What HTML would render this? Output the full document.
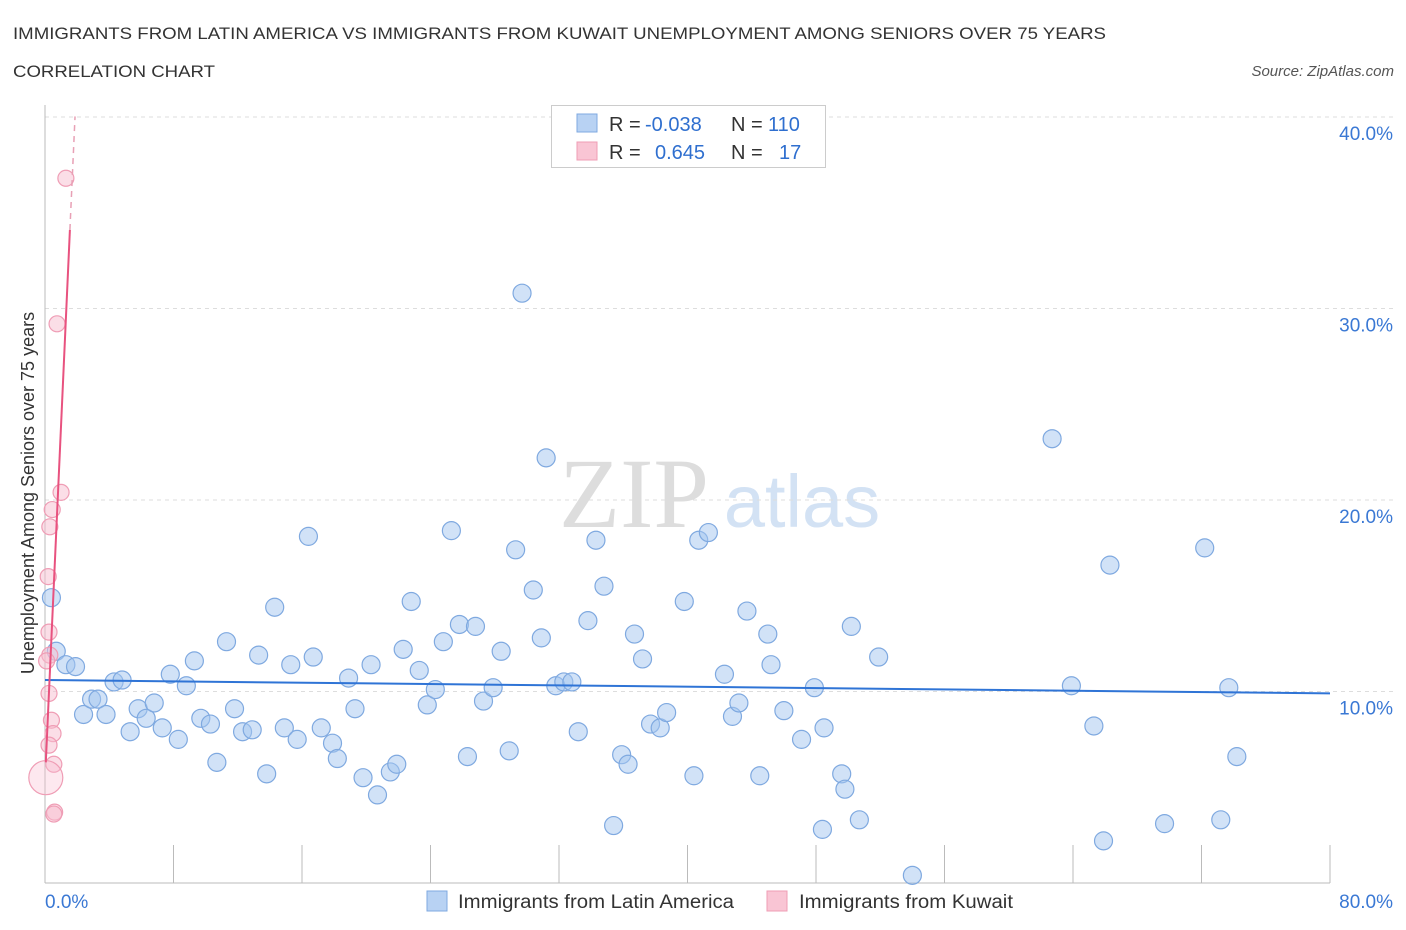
<!DOCTYPE html>
<html><head><meta charset="utf-8">
<style>
body{margin:0;background:#fff;font-family:"Liberation Sans",sans-serif;}
#wrap{position:relative;width:1406px;height:930px;overflow:hidden;}
</style></head>
<body>
<div id="wrap">
<svg id="chart" width="1406" height="930">
<text x="13" y="39" font-size="17" fill="#333" textLength="1093" lengthAdjust="spacingAndGlyphs">IMMIGRANTS FROM LATIN AMERICA VS IMMIGRANTS FROM KUWAIT UNEMPLOYMENT AMONG SENIORS OVER 75 YEARS</text>
<text x="13" y="77" font-size="17" fill="#333" textLength="202" lengthAdjust="spacingAndGlyphs">CORRELATION CHART</text>
<text x="1394" y="76" font-size="15" fill="#555" font-style="italic" text-anchor="end">Source: ZipAtlas.com</text>
<g>
<text x="634" y="527" font-size="100" fill="#ddd" font-family="Liberation Serif,serif" text-anchor="middle">ZIP</text>
<text x="802" y="527" font-size="74" fill="#d3e2f4" text-anchor="middle">atlas</text>
</g>
<g id="grid"></g>
<g id="axes"></g>
<g id="marks"></g>
<text transform="translate(34,493) rotate(-90)" font-size="18" fill="#333" text-anchor="middle">Unemployment Among Seniors over 75 years</text>
<g>
<rect x="551.5" y="105.5" width="274" height="62" fill="#fff" stroke="#ccc"/>
<rect x="577" y="114" width="20" height="18" fill="#b8d2f3" stroke="#7fa9e0"/>
<rect x="577" y="142" width="20" height="18" fill="#f9c5d4" stroke="#ef9db5"/>
<text x="609" y="131" font-size="20" fill="#333">R = <tspan x="645" fill="#2f6fcf">-0.038</tspan><tspan x="731">N = </tspan><tspan x="768" fill="#2f6fcf">110</tspan></text>
<text x="609" y="159" font-size="20" fill="#333">R = <tspan x="655" fill="#2f6fcf">0.645</tspan><tspan x="731">N = </tspan><tspan x="779" fill="#2f6fcf">17</tspan></text>
</g>
<g>
<rect x="427" y="891" width="20" height="20" fill="#b8d2f3" stroke="#7fa9e0"/>
<text x="458" y="908" font-size="19" fill="#333" textLength="276" lengthAdjust="spacingAndGlyphs">Immigrants from Latin America</text>
<rect x="767" y="891" width="20" height="20" fill="#f9c5d4" stroke="#ef9db5"/>
<text x="799" y="908" font-size="19" fill="#333" textLength="214" lengthAdjust="spacingAndGlyphs">Immigrants from Kuwait</text>
</g>
</svg>
</div>
<script>
const blueX=[0.4,0.7,1.3,1.9,2.4,2.9,3.3,3.8,4.3,4.8,5.3,5.8,6.3,6.8,7.3,7.8,8.3,8.8,9.3,9.7,10.3,10.7,11.3,11.8,12.3,12.9,13.3,13.8,14.3,14.9,15.3,15.7,16.4,16.7,17.2,17.9,18.2,18.9,19.3,19.8,20.3,20.7,21.5,21.9,22.3,22.8,23.3,23.8,24.3,24.8,25.3,25.8,26.3,26.8,27.3,27.9,28.4,28.9,29.3,29.7,30.4,30.9,31.2,31.8,32.3,32.8,33.2,33.8,34.3,34.8,35.4,35.9,36.3,36.7,37.2,37.7,38.3,38.7,39.8,40.4,40.7,41.3,42.3,42.8,43.2,43.7,44.5,45.0,45.2,46.0,47.1,47.9,48.4,48.5,49.6,49.8,50.2,50.7,51.9,54.0,62.7,63.9,65.3,65.9,66.3,69.7,72.2,73.2,73.7,74.2];
const blueY=[14.9,12.1,11.4,11.3,8.8,9.6,9.6,8.8,10.5,10.6,7.9,9.1,8.6,9.4,8.1,10.9,7.5,10.3,11.6,8.6,8.3,6.3,12.6,9.1,7.9,8.0,11.9,5.7,14.4,8.1,11.4,7.5,18.1,11.8,8.1,7.3,6.5,10.7,9.1,5.5,11.4,4.6,5.8,6.2,12.2,14.7,11.1,9.3,10.1,12.6,18.4,13.5,6.6,13.4,9.5,10.2,12.1,6.9,17.4,30.8,15.3,12.8,22.2,10.3,10.5,10.5,7.9,13.7,17.9,15.5,3.0,6.7,6.2,13.0,11.7,8.3,8.1,8.9,14.7,5.6,17.9,18.3,10.9,8.7,9.4,14.2,5.6,13.0,11.4,9.0,7.5,10.2,2.8,8.1,5.7,4.9,13.4,3.3,11.8,0.4,23.2,10.3,8.2,2.2,16.6,3.1,17.5,3.3,10.2,6.6];
const pinkX=[1.3,0.75,1.0,0.45,0.3,0.2,0.25,0.3,0.25,0.4,0.5,0.25,0.55,0.6,0.55,0.05,0.1];
const pinkY=[36.8,29.2,20.4,19.5,18.6,16.0,13.1,11.9,9.9,8.5,7.8,7.2,6.2,3.7,3.6,5.5,11.6];
const yTicks=[10,20,30,40];
const yTickLabels=["10.0%","20.0%","30.0%","40.0%"];
const xTickVals=[0,8,16,24,32,40,48,56,64,72,80];
const blueTrend=[10.6,9.9];
const pinkTrend=[0.05,6.3,1.55,34.1,1.87];

const NS="http://www.w3.org/2000/svg";
const X=v=>45+v*16.0625;
const Y=v=>883-v*19.15;
function mk(tag,attrs,parent){const e=document.createElementNS(NS,tag);for(const k in attrs)e.setAttribute(k,attrs[k]);parent.appendChild(e);return e;}
const grid=document.getElementById('grid'),axes=document.getElementById('axes'),marks=document.getElementById('marks');
yTicks.forEach((t,i)=>{
  const l=mk('line',{x1:45,x2:1395,y1:Y(t),y2:Y(t),stroke:'#ddd','stroke-dasharray':'4,4'},grid);
  
  
  const tx=mk('text',{x:1393,y:Y(t)+23,'font-size':19,fill:'#3a78d4','text-anchor':'end'},axes);
  tx.textContent=yTickLabels[i];
  
  
});
const ya=mk('line',{x1:45,x2:45,y1:105,y2:883,stroke:'#bbb'},axes);


const xa=mk('line',{x1:45,x2:1330,y1:883,y2:883,stroke:'#bbb'},axes);


xTickVals.forEach(t=>{
  const l=mk('line',{x1:X(t),x2:X(t),y1:845,y2:883,stroke:'#bbb'},axes);
  
  
});
const xl0=mk('text',{x:45,y:908,'font-size':19,fill:'#3a78d4'},axes);xl0.textContent='0.0%';


const xl1=mk('text',{x:1393,y:908,'font-size':19,fill:'#3a78d4','text-anchor':'end'},axes);xl1.textContent='80.0%';



blueX.forEach((v,i)=>{
  const c=mk('circle',{cx:X(v),cy:Y(blueY[i]),r:9,fill:'rgba(164,198,240,0.5)',stroke:'#7fa9e0','stroke-width':1.2},marks);
  
  
});
pinkX.forEach((v,i)=>{
  const c=mk('circle',{cx:X(v),cy:Y(pinkY[i]),r:i===15?17:8,fill:i===15?'rgba(248,190,208,0.35)':'rgba(248,190,208,0.5)',stroke:'#ef9db5','stroke-width':1.2},marks);
  
  
});
const bt=mk('line',{x1:X(0),y1:Y(blueTrend[0]),x2:X(80),y2:Y(blueTrend[1]),stroke:'#2f74d6','stroke-width':2},marks);


const pt=mk('line',{x1:X(pinkTrend[0]),y1:Y(pinkTrend[1]),x2:X(pinkTrend[2]),y2:Y(pinkTrend[3]),stroke:'#e8527f','stroke-width':2},marks);


const slope=(pinkTrend[3]-pinkTrend[1])/(pinkTrend[2]-pinkTrend[0]);
const pd=mk('line',{x1:X(pinkTrend[2]),y1:Y(pinkTrend[3]),x2:X(pinkTrend[4]),y2:Y(pinkTrend[3]+slope*(pinkTrend[4]-pinkTrend[2])),stroke:'#e8a0b5','stroke-width':1.5,'stroke-dasharray':'6,5'},marks);


</script>
</body></html>
